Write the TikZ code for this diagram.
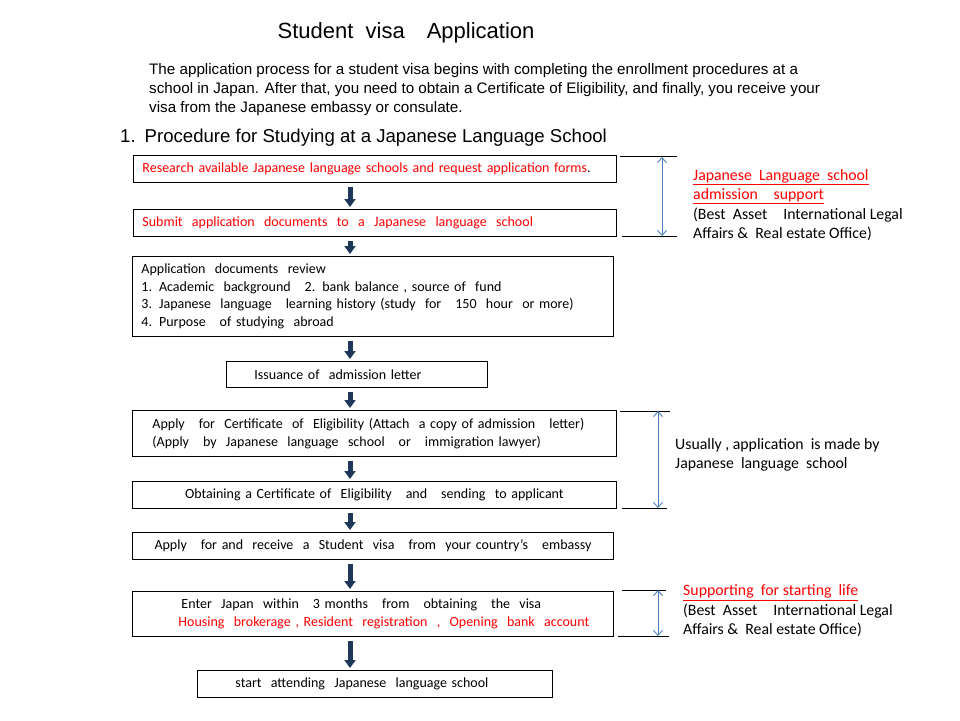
\documentclass[tikz,border=0pt]{standalone}
\usepackage{fontspec}
\setmainfont{Carlito}
\newfontfamily\headfont{Liberation Sans}
\usetikzlibrary{calc}
\usetikzlibrary{arrows.meta}

\definecolor{flowred}{RGB}{255,0,0}
\definecolor{flownavy}{RGB}{31,56,90}
\definecolor{dimblue}{RGB}{74,126,187}

\begin{document}
\begin{tikzpicture}[x=1pt,y=-1pt,
    stepbox/.style={draw,line width=0.9pt,anchor=north west,align=left,
        inner ysep=0pt,font=\fontsize{14}{17.7}\selectfont},
    note/.style={anchor=west,align=left,inner sep=0pt,
        font=\fontsize{15.8}{19.5}\selectfont},
    dimline/.style={line width=0.9pt}]%
    \useasboundingbox (0,0) rectangle (960,720);
    \node[font=\headfont\fontsize{22}{26}\selectfont] (title) at (406,33) {Student\ \ visa\quad Application};
    \node[anchor=west,align=left,inner sep=0pt,font=\headfont\fontsize{15.2}{19}\selectfont] (intro) at (149,90)
        {The application process for a student visa begins with completing the enrollment procedures at a\\
         school in Japan. After that, you need to obtain a Certificate of Eligibility, and finally, you receive your\\
         visa from the Japanese embassy or consulate.};
    \node[anchor=west,inner sep=0pt,font=\headfont\fontsize{18.6}{22}\selectfont] (sec) at (120,138)
        {1.\hspace{9pt}Procedure for Studying at a Japanese Language School};
    % flow boxes
    \node[stepbox,inner xsep=9pt,text width=465pt,minimum height=27pt] (n1) at (133,155)
        {{\color{flowred}Research available Japanese language schools and request application forms}.};
    \node[stepbox,inner xsep=9pt,text width=465pt,minimum height=27pt,text=flowred] (n2) at (133,209)
        {Submit\ \ application\ \ documents\ \ to\ \ a\ \ Japanese\ \ language\ \ school};
    \node[stepbox,inner xsep=9pt,text width=463pt,minimum height=80pt] (n3) at (132,256)
        {Application\ \ documents\ \ review\\
         1.\enspace Academic\ \ background\quad 2.\enspace bank balance , source of\ \ fund\\
         3.\enspace Japanese\ \ language\quad learning history (study\ \ for\ \ \ 150\ \ hour\ \ or more)\\
         4.\enspace Purpose\quad of studying\ \ abroad};
    \node[stepbox,inner xsep=28pt,text width=205pt,minimum height=26pt] (n4) at (226,361)
        {Issuance of\ \ admission letter};
    \node[stepbox,inner xsep=20pt,text width=444pt,minimum height=46pt] (n5) at (132,410)
        {Apply\ \ \ for\ \ Certificate\ \ of\ \ Eligibility (Attach\ \ a copy of admission\quad letter)\\
         (Apply\ \ \ by\ \ Japanese\ \ language\ \ school\quad or\ \ \ immigration lawyer)};
    \node[stepbox,align=center,inner xsep=9pt,text width=466pt,minimum height=27pt] (n6) at (132,481)
        {Obtaining a Certificate of\ \ Eligibility\quad and\quad sending\ \ to applicant};
    \node[stepbox,align=center,inner xsep=9pt,text width=463pt,minimum height=27pt] (n7) at (132,532)
        {Apply\quad for and\ \ receive\ \ a\ \ Student\ \ visa\quad from\ \ your country’s\quad embassy};
    \node[stepbox,inner xsep=46pt,text width=389pt,minimum height=45pt] (n8) at (132,591)
        {\hspace{3pt}Enter\ \ Japan\ \ within\quad 3 months\quad from\quad obtaining\quad the\ \ visa\\
         \mbox{\color{flowred}Housing\ \ brokerage , Resident\ \ registration\ \ ,\ \ Opening\ \ bank\ \ account}};
    \node[stepbox,inner xsep=38pt,text width=279pt,minimum height=27pt] (n9) at (197,670)
        {start\ \ attending\ \ Japanese\ \ language school};
    \coordinate (axis) at (350,0);
    \begin{scope}[flownavy,line width=5pt,shorten <=4pt,shorten >=2pt]
        \foreach \a/\b in {n1/n2,n2/n3,n3/n4,n4/n5,n5/n6,n6/n7,n7/n8,n8/n9}
            \draw[-{Triangle[length=8pt,width=11pt]}] (\a.south -| axis) -- (\b.north -| axis);
    \end{scope}
    % side brackets
    \coordinate (s1t) at (620,156); \coordinate (s1b) at (622,236);
    \coordinate (s2t) at (620,411); \coordinate (s2b) at (622,508);
    \coordinate (s3t) at (622,590); \coordinate (s3b) at (618,636);
    \draw[dimline] (s1t) -- ++(57,0);
    \draw[dimline] (s1b) -- ++(55,0);
    \draw[dimline] (s2t) -- ++(50,0);
    \draw[dimline] (s2b) -- ++(45,0);
    \draw[dimline] (s3t) -- ++(44,0);
    \draw[dimline] (s3b) -- ++(51,0);
    \coordinate (a1t) at (662,157); \coordinate (a1b) at (662,236);
    \coordinate (a2t) at (658,411); \coordinate (a2b) at (658,508);
    \coordinate (a3t) at (658,590); \coordinate (a3b) at (658,636);
    \begin{scope}[dimblue,line width=0.9pt]
        \foreach \t/\b in {a1t/a1b,a2t/a2b,a3t/a3b}
            \draw[{Straight Barb[length=5pt,width=9pt]}-{Straight Barb[length=5pt,width=9pt]}] (\t) -- (\b);
    \end{scope}
    \node[note] (note1) at (693,205)
        {{\color{flowred}\underline{Japanese\ \ Language\ \ school}}\\
         {\color{flowred}\underline{admission\quad support}}\\
         (Best\ \ Asset\quad International Legal\\
         Affairs \&\ \ Real estate Office)};
    \node[note] (note2) at (675,455)
        {Usually , application\ \ is made by\\
         Japanese\ \ language\ \ school};
    \node[note] (note3) at (683,611)
        {{\color{flowred}\underline{Supporting\ \ for starting\ \ life}}\\
         (Best\ \ Asset\quad International Legal\\
         Affairs \&\ \ Real estate Office)};
\end{tikzpicture}
\end{document}
